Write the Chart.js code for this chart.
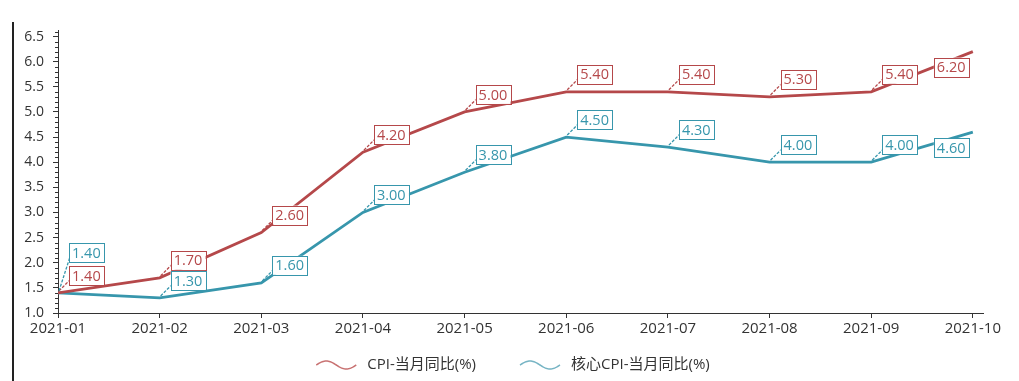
<!DOCTYPE html>
<html><head><meta charset="utf-8">
<script src="https://cdn.jsdelivr.net/npm/chart.js@4.4.1/dist/chart.umd.min.js"></script>
<style>html,body{margin:0;padding:0;background:#fff}#wrap{width:1019px;height:381px;position:relative}</style>
</head><body><div id="wrap"><canvas id="c" width="1019" height="381"></canvas></div>
<script>
const categories = ['2021-01','2021-02','2021-03','2021-04','2021-05','2021-06','2021-07','2021-08','2021-09','2021-10'];
const cpi = [1.4,1.7,2.6,4.2,5.0,5.4,5.4,5.3,5.4,6.2];
const coreCpi = [1.4,1.3,1.6,3.0,3.8,4.5,4.3,4.0,4.0,4.6];
const seriesNames = ['CPI-当月同比(%)','核心CPI-当月同比(%)'];
const yTickLabels = [1.0,1.5,2.0,2.5,3.0,3.5,4.0,4.5,5.0,5.5,6.0,6.5];

const FONT = "'Segoe UI', 'Open Sans', 'Noto Sans CJK SC', sans-serif";
const RED = '#b5484a', TEAL = '#3796ac';
const LEGEND_COL = ['#c87272', '#76b4c4'];
Chart.defaults.font.family = FONT;

const toXY = arr => arr.map((v, i) => ({x: i, y: v}));

const labelPlugin = {
  id: 'boxLabels',
  afterDatasetsDraw(chart) {
    const ctx = chart.ctx, ca = chart.chartArea;
    const placed = [];
    ctx.save();
    ctx.font = '14.5px ' + FONT;
    chart.data.datasets.forEach((ds, di) => {
      const meta = chart.getDatasetMeta(di);
      meta.data.forEach((pt, i) => {
        const txt = ds.data[i].y.toFixed(2);
        const w = Math.round(ctx.measureText(txt).width) + 6, h = 19;
        let left = pt.x + 11, top = pt.y - 8 - h, side = 'right';
        if (left + w > ca.right - 2) { side = 'left'; left = pt.x - 4 - w; top = pt.y + 6; }
        let moved = true, guard = 0;
        while (moved && guard++ < 10) {
          moved = false;
          for (const b of placed) {
            if (left < b.left + b.w && left + w > b.left && top < b.top + b.h && top + h > b.top) {
              top = b.top - h - 4; moved = true;
            }
          }
        }
        placed.push({left, top, w, h});
        const col = ds.borderColor;
        if (side === 'right') {
          ctx.save();
          ctx.strokeStyle = col; ctx.lineWidth = 1.3; ctx.setLineDash([3, 1.5]);
          ctx.beginPath(); ctx.moveTo(pt.x + 1, pt.y - 2); ctx.lineTo(left + 1, top + h - 5); ctx.stroke();
          ctx.restore();
        }
        ctx.fillStyle = '#fff';
        ctx.fillRect(left, top, w, h);
        ctx.strokeStyle = col; ctx.lineWidth = 1;
        ctx.strokeRect(Math.round(left) + 0.5, Math.round(top) + 0.5, w, h);
        ctx.fillStyle = col; ctx.textAlign = 'left'; ctx.textBaseline = 'middle';
        ctx.fillText(txt, left + 3, top + h / 2 + 1);
      });
    });
    ctx.restore();
  }
};

const decoPlugin = {
  id: 'deco',
  afterDraw(chart) {
    const ctx = chart.ctx, ca = chart.chartArea, ys = chart.scales.y;
    ctx.save();
    // left frame line
    ctx.strokeStyle = '#222'; ctx.lineWidth = 2;
    ctx.beginPath(); ctx.moveTo(13, 22); ctx.lineTo(13, 381); ctx.stroke();
    // minor y ticks
    ctx.strokeStyle = '#333'; ctx.lineWidth = 1;
    for (let k = 10; k <= 66; k++) {
      if (k % 5 === 0) continue;
      const y = Math.round(ys.getPixelForValue(k / 10)) + 0.5;
      ctx.beginPath(); ctx.moveTo(ca.left - 3, y); ctx.lineTo(ca.left, y); ctx.stroke();
    }
    // legend
    ctx.font = '15px ' + FONT;
    ctx.textBaseline = 'middle'; ctx.textAlign = 'left';
    const waveW = 40, gapT = 11, gapI = 44, cy = 365;
    const widths = seriesNames.map(s => ctx.measureText(s).width);
    const total = widths.reduce((a, b) => a + b, 0) + seriesNames.length * (waveW + gapT) + gapI * (seriesNames.length - 1);
    let x = 513 - total / 2;
    chart.data.datasets.forEach((ds, di) => {
      ctx.strokeStyle = LEGEND_COL[di]; ctx.lineWidth = 1.5;
      ctx.beginPath();
      for (let t = 0; t <= 40; t++) {
        const px = x + t / 40 * waveW;
        const py = cy - 4 * Math.sin(t / 40 * Math.PI * 2);
        if (t === 0) ctx.moveTo(px, py); else ctx.lineTo(px, py);
      }
      ctx.stroke();
      ctx.fillStyle = '#333';
      ctx.fillText(ds.label, x + waveW + gapT, cy);
      x += waveW + gapT + widths[di] + gapI;
    });
    ctx.restore();
  }
};

new Chart(document.getElementById('c'), {
  type: 'line',
  data: {
    datasets: [
      {label: seriesNames[0], data: toXY(cpi), borderColor: RED, backgroundColor: RED, borderWidth: 2.8, pointRadius: 0, tension: 0},
      {label: seriesNames[1], data: toXY(coreCpi), borderColor: TEAL, backgroundColor: TEAL, borderWidth: 2.8, pointRadius: 0, tension: 0}
    ]
  },
  options: {
    responsive: false, animation: false,
    layout: {padding: {top: 30, right: 36, bottom: 28, left: 0}},
    plugins: {legend: {display: false}, tooltip: {enabled: false}},
    scales: {
      x: {
        type: 'linear', min: 0, max: 9.1,
        afterBuildTicks: s => { s.ticks = categories.map((_, i) => ({value: i})); },
        afterFit: s => { s.height = 40; },
        ticks: {callback: v => categories[v], font: {size: 15}, color: '#333', padding: 2, maxRotation: 0, autoSkip: false},
        grid: {drawOnChartArea: false, drawTicks: true, tickLength: 5, tickColor: '#333'},
        border: {color: '#333', width: 1}
      },
      y: {
        type: 'linear', min: 1.0, max: 6.63,
        afterBuildTicks: s => { s.ticks = yTickLabels.map(v => ({value: v})); },
        afterFit: s => { s.width = 58; },
        ticks: {callback: v => Number(v).toFixed(1), font: {size: 14}, color: '#333', padding: 9},
        grid: {drawOnChartArea: false, drawTicks: true, tickLength: 5, tickColor: '#333'},
        border: {color: '#333', width: 1}
      }
    }
  },
  plugins: [labelPlugin, decoPlugin]
});
</script>
</body></html>
